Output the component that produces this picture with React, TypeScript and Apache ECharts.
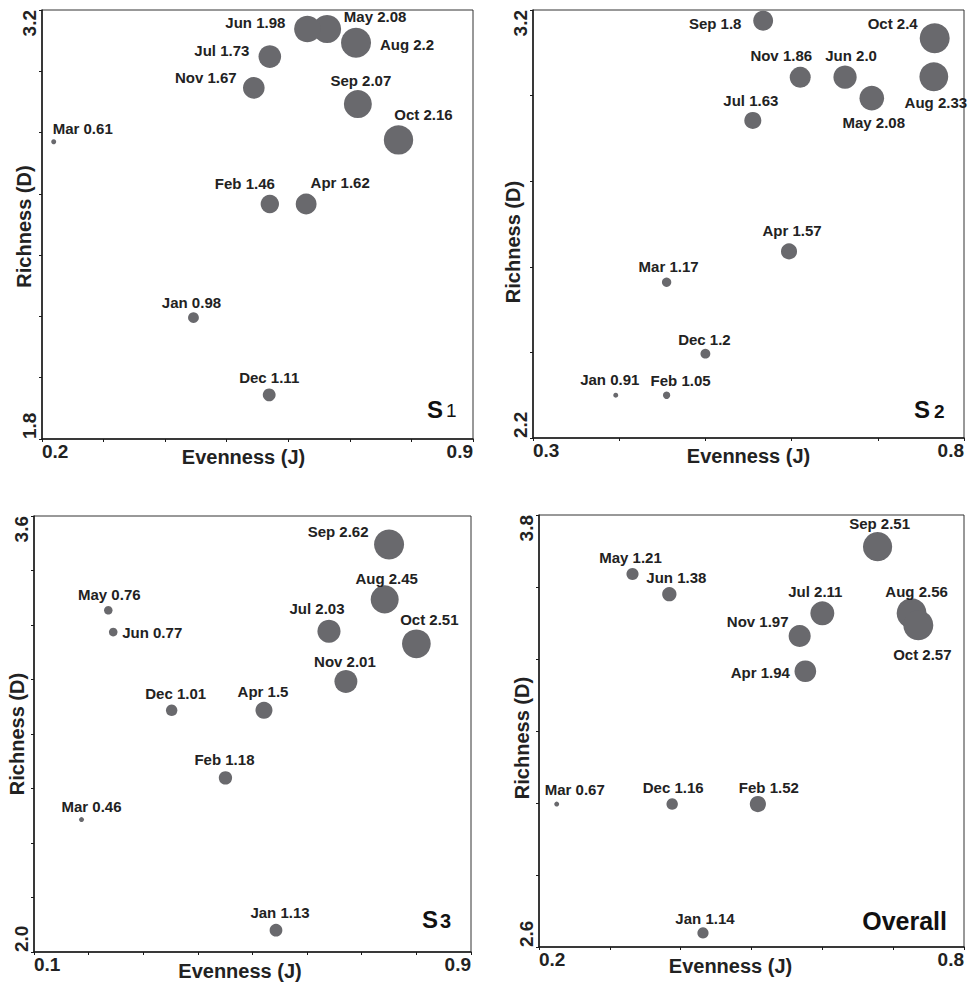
import React, { useEffect, useRef } from "react";
import * as echarts from "echarts";

// ---------- data ----------
const months = ["Jan", "Feb", "Mar", "Apr", "May", "Jun", "Jul", "Aug", "Sep", "Oct", "Nov", "Dec"];

// S1
const s1Evenness = [0.446, 0.57, 0.219, 0.629, 0.663, 0.631, 0.57, 0.71, 0.713, 0.779, 0.544, 0.569];
const s1Richness = [2.196, 2.567, 2.77, 2.567, 3.138, 3.138, 3.048, 3.093, 2.893, 2.776, 2.946, 1.944];
const s1Diversity = ["0.98", "1.46", "0.61", "1.62", "2.08", "1.98", "1.73", "2.2", "2.07", "2.16", "1.67", "1.11"];

// S2
const s2Evenness = [0.396, 0.455, 0.455, 0.597, 0.693, 0.662, 0.555, 0.765, 0.567, 0.766, 0.61, 0.5];
const s2Richness = [2.3, 2.3, 2.564, 2.636, 2.994, 3.043, 2.942, 3.044, 3.175, 3.134, 3.043, 2.397];
const s2Diversity = ["0.91", "1.05", "1.17", "1.57", "2.08", "2.0", "1.63", "2.33", "1.8", "2.4", "1.86", "1.2"];

// S3
const s3Evenness = [0.543, 0.4505, 0.187, 0.521, 0.236, 0.245, 0.64, 0.742, 0.75, 0.8, 0.671, 0.352];
const s3Richness = [2.08, 2.639, 2.486, 2.887, 3.254, 3.174, 3.177, 3.294, 3.495, 3.131, 2.993, 2.887];
const s3Diversity = ["1.13", "1.18", "0.46", "1.5", "0.76", "0.77", "2.03", "2.45", "2.62", "2.51", "2.01", "1.01"];

// Overall
const allEvenness = [0.4315, 0.509, 0.225, 0.576, 0.332, 0.384, 0.6, 0.726, 0.678, 0.7355, 0.568, 0.388];
const allRichness = [2.639, 2.997, 2.997, 3.366, 3.636, 3.58, 3.527, 3.527, 3.712, 3.494, 3.464, 2.997];
const allDiversity = ["1.14", "1.52", "0.67", "1.94", "1.21", "1.38", "2.11", "2.56", "2.51", "2.57", "1.97", "1.16"];

// axis ranges / tick labels [min, max]
const s1XRange = [0.2, 0.9];
const s1YRange = [1.8, 3.2];
const s2XRange = [0.3, 0.8];
const s2YRange = [2.2, 3.2];
const s3XRange = [0.1, 0.9];
const s3YRange = [2.0, 3.6];
const allXRange = [0.2, 0.8];
const allYRange = [2.6, 3.8];

const panelTitles = ["S", "S", "S", "Overall"];
const panelSubs = ["1", "2", "3", ""];

// ---------- layout / style (not data) ----------
const labelOffsets = [
  [[-2, -15], [-25, -20], [29, -13], [34, -21], [48, -12], [-52, -6], [-48, -6], [51, 2], [3, -24], [25, -25], [-48, -10], [0, -17]],
  [[-6, -16], [14, -15], [2, -16], [3, -21], [2, 24], [6, -22], [-2, -20], [2, 26], [-48, 3], [-42, -15], [-19, -22], [-1, -14]],
  [[4, -18], [-1, -18], [10, -13], [-1, -19], [1, -16], [39, 0], [-12, -23], [2, -21], [-51, -13], [13, -24], [-1, -20], [4, -17]],
  [[2, -14], [11, -17], [18, -15], [-45, 1], [-2, -17], [7, -17], [-7, -22], [5, -22], [2, -23], [4, 29], [-42, -14], [1, -17]],
];

const grids = [
  { left: 42, top: 10, width: 431, height: 429 },
  { left: 533, top: 10, width: 431, height: 428 },
  { left: 34, top: 516, width: 437, height: 436 },
  { left: 539, top: 515, width: 425, height: 432 },
];
const xNamePad = [28, 0, 25, 42];
const yNamePad = [4, 36, 0, 14];
const yNameGap = [8, 10, 7, 7];
const xNameGap = [8, 8, 9, 9];

const FONT = "'Liberation Sans', Arial, Helvetica, sans-serif";
const BUBBLE = "#69696d";
const TEXT = "#222";

const panels = [
  { x: s1Evenness, y: s1Richness, h: s1Diversity, xr: s1XRange, yr: s1YRange },
  { x: s2Evenness, y: s2Richness, h: s2Diversity, xr: s2XRange, yr: s2YRange },
  { x: s3Evenness, y: s3Richness, h: s3Diversity, xr: s3XRange, yr: s3YRange },
  { x: allEvenness, y: allRichness, h: allDiversity, xr: allXRange, yr: allYRange },
];

function endsOnly(min: number, max: number) {
  return (v: number) =>
    Math.abs(v - min) < 1e-6 || Math.abs(v - max) < 1e-6 ? v.toFixed(1) : "";
}

function buildOption() {
  const grid: any[] = [];
  const xAxis: any[] = [];
  const yAxis: any[] = [];
  const series: any[] = [];

  panels.forEach((p, i) => {
    grid.push({
      ...grids[i],
      show: true,
      borderColor: "#333",
      borderWidth: 1,
      backgroundColor: "transparent",
      containLabel: false,
      outerBoundsMode: "none",
    });
    const axisCommon = {
      type: "value",
      gridIndex: i,
      splitLine: { show: false },
      axisLine: { show: true, onZero: false, lineStyle: { color: "#1a1a1a", width: 1.5 } },
      axisTick: { show: true, length: 3, lineStyle: { color: "#1a1a1a", width: 1 } },
      nameLocation: "middle",
      nameMoveOverlap: false,
    };
    xAxis.push({
      ...axisCommon,
      min: p.xr[0],
      max: p.xr[1],
      interval: 0.1,
      name: "Evenness (J)",
      nameGap: xNameGap[i],
      nameTextStyle: {
        fontFamily: FONT,
        fontWeight: "bold",
        fontSize: 20,
        color: TEXT,
        padding: [0, xNamePad[i], 0, 0],
      },
      axisLabel: {
        show: true,
        margin: 3,
        fontFamily: FONT,
        fontWeight: "bold",
        fontSize: 19,
        color: TEXT,
        formatter: endsOnly(p.xr[0], p.xr[1]),
        alignMinLabel: "left",
        alignMaxLabel: "right",
      },
    });
    yAxis.push({
      ...axisCommon,
      min: p.yr[0],
      max: p.yr[1],
      interval: 0.2,
      name: "Richness (D)",
      nameGap: yNameGap[i],
      nameTextStyle: {
        fontFamily: FONT,
        fontWeight: "bold",
        fontSize: 20,
        color: TEXT,
        padding: [0, yNamePad[i], 0, 0],
      },
      axisLabel: {
        show: true,
        rotate: 90,
        margin: 3,
        fontFamily: FONT,
        fontWeight: "bold",
        fontSize: 19,
        color: TEXT,
        formatter: endsOnly(p.yr[0], p.yr[1]),
        alignMinLabel: "left",
        alignMaxLabel: "right",
      },
    });

    const hNums = p.h.map((s) => parseFloat(s));
    const hMin = Math.min(...hNums);
    const hMax = Math.max(...hNums);
    const data = months.map((m, k) => ({
      name: m,
      value: [p.x[k], p.y[k], hNums[k]],
      label: { offset: labelOffsets[i][k] },
    }));
    series.push({
      type: "scatter",
      xAxisIndex: i,
      yAxisIndex: i,
      symbol: "circle",
      silent: true,
      symbolSize: (val: number[]) => 5 + ((val[2] - hMin) / (hMax - hMin)) * 25,
      itemStyle: { color: BUBBLE, opacity: 1 },
      label: {
        show: true,
        position: "inside",
        fontFamily: FONT,
        fontWeight: "bold",
        fontSize: 15,
        color: TEXT,
        formatter: (prm: any) => months[prm.dataIndex] + " " + p.h[prm.dataIndex],
      },
      emphasis: { disabled: true },
      data,
    });
  });

  const graphic: any[] = [
    // S1
    { type: "text", x: 427, y: 421, style: { text: panelTitles[0], font: `bold 24px ${FONT}`, fill: "#111", verticalAlign: "bottom" } },
    { type: "text", x: 446, y: 420, style: { text: panelSubs[0], font: `19px ${FONT}`, fill: "#111", verticalAlign: "bottom" } },
    // S2
    { type: "text", x: 914, y: 421, style: { text: panelTitles[1], font: `bold 24px ${FONT}`, fill: "#111", verticalAlign: "bottom" } },
    { type: "text", x: 934, y: 421, style: { text: panelSubs[1], font: `bold 19px ${FONT}`, fill: "#111", verticalAlign: "bottom" } },
    // S3
    { type: "text", x: 422, y: 931, style: { text: panelTitles[2], font: `bold 24px ${FONT}`, fill: "#111", verticalAlign: "bottom" } },
    { type: "text", x: 440, y: 931, style: { text: panelSubs[2], font: `bold 20px ${FONT}`, fill: "#111", verticalAlign: "bottom" } },
    // Overall
    { type: "text", x: 947, y: 933, style: { text: panelTitles[3], font: `bold 25px ${FONT}`, fill: "#111", align: "right", verticalAlign: "bottom" } },
  ];

  return {
    animation: false,
    backgroundColor: "#fff",
    grid,
    xAxis,
    yAxis,
    series,
    graphic,
  };
}

export default function App() {
  const ref = useRef<HTMLDivElement>(null);
  useEffect(() => {
    if (!ref.current) return;
    const chart = echarts.init(ref.current, undefined, { renderer: "svg" });
    chart.setOption(buildOption() as any);
    return () => chart.dispose();
  }, []);
  return (
    <div
      ref={ref}
      style={{ position: "absolute", left: 0, top: 0, width: 968, height: 983, background: "#fff" }}
    />
  );
}
